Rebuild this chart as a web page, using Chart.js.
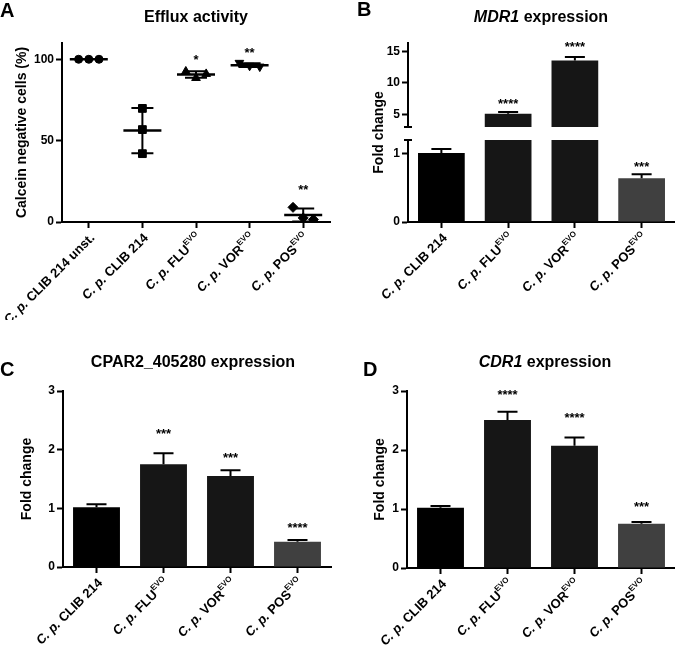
<!DOCTYPE html>
<html><head><meta charset="utf-8">
<script src="https://cdn.jsdelivr.net/npm/chart.js@4"></script>
<style>
html,body{margin:0;padding:0;background:#fff;width:675px;height:646px;overflow:hidden}
canvas{position:absolute}
</style></head><body>
<canvas id="cA" width="337" height="320" style="left:0;top:0"></canvas>
<canvas id="cB" width="338" height="320" style="left:337px;top:0"></canvas>
<canvas id="cC" width="337" height="326" style="left:0;top:320px"></canvas>
<canvas id="cD" width="338" height="326" style="left:337px;top:320px"></canvas>
<script>
// ---------------- DATA ----------------
const prefix = 'C. p. ';
const strainsA = ['CLIB 214 unst.', 'CLIB 214', 'FLU', 'VOR', 'POS'];
const supA = ['', '', 'EVO', 'EVO', 'EVO'];
const replicatesA = [[100, 100, 100], [69.8, 56.8, 42.0], [92.5, 88.5, 91.0], [97.8, 96.0, 95.5], [9.0, 2.5, 1.5]];
const meanA = [100, 56.2, 90.7, 96.4, 4.3];
const sdA = [0, 13.9, 2.0, 1.2, 4.0];
const sigA = ['', '', '*', '**', '**'];
const sigYA = [null, null, 102, 105.7, 22];
const ticksA = [0, 50, 100];

const strainsBCD = ['CLIB 214', 'FLU', 'VOR', 'POS'];
const supBCD = ['', 'EVO', 'EVO', 'EVO'];

const mdr1 = [1.01, 5.1, 13.52, 0.64];
const mdr1Sd = [0.06, 0.27, 0.58, 0.06];
const sigB = ['', '****', '****', '***'];
const sigYB = [null, 7.2, 16.2, 0.85];
const ticksBLow = [0, 1];
const ticksBHigh = [5, 10, 15];

const cpar2 = [1.02, 1.75, 1.55, 0.43];
const cpar2Sd = [0.05, 0.19, 0.10, 0.03];
const sigC = ['', '***', '***', '****'];
const sigYC = [null, 2.33, 1.91, 0.72];

const cdr1 = [1.02, 2.51, 2.07, 0.75];
const cdr1Sd = [0.03, 0.14, 0.14, 0.03];
const sigD = ['', '****', '****', '***'];
const sigYD = [null, 2.99, 2.6, 1.1];
const ticksCD = [0, 1, 2, 3];

const barColors = ['#000000', '#161616', '#161616', '#404040'];

// ---------------- STYLE ----------------
const FONT = '"Liberation Sans", Arial, Helvetica, sans-serif';
Chart.defaults.font.family = FONT;
Chart.defaults.color = '#000';
Chart.defaults.animation = false;

function tickSetter(vals) { return s => { s.ticks = vals.map(v => ({ value: v })); }; }
const axisGrid = { drawOnChartArea: false, drawTicks: true, tickLength: 6, tickWidth: 2, tickColor: '#000' };
const axisBorder = { display: true, width: 2, color: '#000' };
function yAxis(min, max, ticks, width, extra) {
  return Object.assign({
    type: 'linear', position: 'left', min, max,
    afterBuildTicks: tickSetter(ticks),
    afterFit: s => { s.width = width; },
    grid: axisGrid, border: axisBorder,
    ticks: { font: { size: 12, weight: 'bold' }, padding: 2, color: '#000' }
  }, extra || {});
}

function drawXLabels(chart, names, sups, lx, ly) {
  const ctx = chart.ctx, xs = chart.scales.x, base = chart.chartArea.bottom;
  names.forEach((name, i) => {
    const px = xs.getPixelForValue(i);
    ctx.save();
    ctx.translate(px + lx, base + ly);
    ctx.rotate(-Math.PI / 4);
    ctx.textBaseline = 'middle'; ctx.textAlign = 'left'; ctx.fillStyle = '#000';
    const fPre = `italic bold 13px ${FONT}`, fMain = `bold 13px ${FONT}`, fSup = `bold 8px ${FONT}`;
    ctx.font = fPre; const w1 = ctx.measureText(prefix).width;
    ctx.font = fMain; const w2 = ctx.measureText(name).width;
    ctx.font = fSup; const w3 = sups[i] ? ctx.measureText(sups[i]).width : 0;
    let x = -(w1 + w2 + w3);
    ctx.font = fPre; ctx.fillText(prefix, x, 0); x += w1;
    ctx.font = fMain; ctx.fillText(name, x, 0); x += w2;
    if (sups[i]) { ctx.font = fSup; ctx.fillText(sups[i], x, -5); }
    ctx.restore();
  });
}

function drawTitle(ctx, segs, cx, cy) {
  ctx.save();
  ctx.textBaseline = 'middle'; ctx.textAlign = 'left'; ctx.fillStyle = '#000';
  const fonts = segs.map(s => `${s.italic ? 'italic ' : ''}bold 16px ${FONT}`);
  let total = 0;
  const ws = segs.map((s, i) => { ctx.font = fonts[i]; const w = ctx.measureText(s.text).width; total += w; return w; });
  let x = cx - total / 2;
  segs.forEach((s, i) => { ctx.font = fonts[i]; ctx.fillText(s.text, x, cy); x += ws[i]; });
  ctx.restore();
}

function drawLetter(ctx, letter, x, y) {
  ctx.save(); ctx.font = `bold 20px ${FONT}`; ctx.textAlign = 'left'; ctx.textBaseline = 'middle';
  ctx.fillStyle = '#000'; ctx.fillText(letter, x, y); ctx.restore();
}

function drawYTitle(ctx, text, x, y) {
  ctx.save(); ctx.translate(x, y); ctx.rotate(-Math.PI / 2);
  ctx.font = `bold 14px ${FONT}`; ctx.textAlign = 'center'; ctx.textBaseline = 'middle';
  ctx.fillStyle = '#000'; ctx.fillText(text, 0, 0); ctx.restore();
}

function drawSig(ctx, text, x, y) {
  ctx.save(); ctx.font = `bold 13px ${FONT}`; ctx.textAlign = 'center'; ctx.textBaseline = 'alphabetic';
  ctx.fillStyle = '#000'; ctx.fillText(text, x, y + 7.5); ctx.restore();
}

function drawErr(ctx, x, yFrom, yTo, cap) {
  ctx.beginPath();
  ctx.moveTo(x, yFrom); ctx.lineTo(x, yTo);
  ctx.moveTo(x - cap, yTo); ctx.lineTo(x + cap, yTo);
  ctx.stroke();
}

const catX = {
  type: 'category', position: 'bottom',
  afterFit: s => { s.height = 10; },
  grid: Object.assign({ offset: false }, axisGrid), border: axisBorder,
  ticks: { display: false }
};

// ---------------- PANEL A ----------------
const markerStyles = ['circle', 'rect', 'triangle', 'triangle', 'rectRot'];
const markerRotation = [0, 0, 0, 180, 0];
const markerRadius = [4, 5.5, 5, 5, 5];
const spreadStep = 0.19;
const dsA = replicatesA.map((vals, g) => {
  const spread = Math.max(...vals) - Math.min(...vals) < 10;
  return {
    data: vals.map((v, k) => ({ x: g + (spread ? (k - 1) * spreadStep : 0), y: v })),
    pointStyle: markerStyles[g], rotation: markerRotation[g], pointRadius: markerRadius[g],
    backgroundColor: '#000', borderColor: '#000', borderWidth: 1, showLine: false
  };
});

new Chart(document.getElementById('cA'), {
  type: 'scatter',
  data: { datasets: dsA },
  options: {
    responsive: false, events: [],
    layout: { padding: { left: 14, top: 43, right: 7, bottom: 88 } },
    plugins: { legend: { display: false }, tooltip: { enabled: false } },
    scales: {
      x: {
        type: 'linear', min: -0.5, max: 4.5,
        afterBuildTicks: tickSetter(strainsA.map((_, i) => i)),
        afterFit: s => { s.height = 10; },
        grid: axisGrid, border: axisBorder, ticks: { display: false }
      },
      y: yAxis(0, 110, ticksA, 48)
    }
  },
  plugins: [{
    id: 'decorA',
    afterDatasetsDraw(chart) {
      const ctx = chart.ctx, xs = chart.scales.x, ys = chart.scales.y;
      ctx.save(); ctx.strokeStyle = '#000'; ctx.lineWidth = 2.5;
      meanA.forEach((m, i) => {
        const x = xs.getPixelForValue(i), y = ys.getPixelForValue(m);
        ctx.beginPath(); ctx.moveTo(x - 19, y); ctx.lineTo(x + 19, y); ctx.stroke();
        if (sdA[i] > 0) {
          const yt = ys.getPixelForValue(m + sdA[i]), yb = ys.getPixelForValue(Math.max(m - sdA[i], 0));
          ctx.lineWidth = 2;
          ctx.beginPath(); ctx.moveTo(x, yt); ctx.lineTo(x, yb);
          ctx.moveTo(x - 11, yt); ctx.lineTo(x + 11, yt);
          ctx.moveTo(x - 11, yb); ctx.lineTo(x + 11, yb); ctx.stroke();
          ctx.lineWidth = 2.5;
        }
      });
      ctx.restore();
    },
    afterDraw(chart) {
      const ctx = chart.ctx, ca = chart.chartArea, xs = chart.scales.x, ys = chart.scales.y;
      drawLetter(ctx, 'A', 0, 11);
      drawTitle(ctx, [{ text: 'Efflux activity' }], 196, 18);
      drawYTitle(ctx, 'Calcein negative cells (%)', 22, (ca.top + ca.bottom) / 2);
      sigA.forEach((s, i) => { if (s) drawSig(ctx, s, xs.getPixelForValue(i), ys.getPixelForValue(sigYA[i])); });
      drawXLabels(chart, strainsA, supA, 4, 14);
    }
  }]
});

// ---------------- BAR PANELS ----------------
const clipPlugin = {
  id: 'clipToScale',
  beforeDatasetDraw(chart, args) {
    const ys = chart.scales[args.meta.yAxisID], ca = chart.chartArea, ctx = chart.ctx;
    ctx.save(); ctx.beginPath();
    ctx.rect(ca.left - 2, ys.top, ca.right - ca.left + 4, ys.bottom - ys.top); ctx.clip();
  },
  afterDatasetDraw(chart) { chart.ctx.restore(); }
};

function barDataset(values, yAxisID) {
  return {
    data: values, yAxisID, backgroundColor: barColors, borderWidth: 0,
    barPercentage: 0.7, categoryPercentage: 1.0, grouped: false
  };
}

function pickScale(chart, v) {
  const lo = chart.scales.yLow;
  if (lo && v > lo.max) return chart.scales.yHigh;
  return lo || chart.scales.y;
}

function barDecor(id, letter, lpos, titleSegs, tpos, yTitleX, values, sds, sig, sigY, isBroken) {
  return {
    id,
    afterDatasetsDraw(chart) {
      const ctx = chart.ctx, xs = chart.scales.x;
      ctx.save(); ctx.strokeStyle = '#000'; ctx.lineWidth = 2;
      values.forEach((v, i) => {
        const ys = pickScale(chart, v);
        const x = xs.getPixelForValue(i);
        drawErr(ctx, x, ys.getPixelForValue(v), ys.getPixelForValue(v + sds[i]), 10);
      });
      ctx.restore();
    },
    afterDraw(chart) {
      const ctx = chart.ctx, ca = chart.chartArea, xs = chart.scales.x;
      drawLetter(ctx, letter, lpos[0], lpos[1]);
      drawTitle(ctx, titleSegs, tpos[0], tpos[1]);
      drawYTitle(ctx, 'Fold change', yTitleX, (ca.top + ca.bottom) / 2);
      sig.forEach((s, i) => { if (s) { const ys = pickScale(chart, sigY[i]); drawSig(ctx, s, xs.getPixelForValue(i), ys.getPixelForValue(sigY[i])); } });
      if (isBroken) {
        ctx.save(); ctx.strokeStyle = '#000'; ctx.lineWidth = 2;
        [chart.scales.yHigh.bottom, chart.scales.yLow.top].forEach(y => {
          ctx.beginPath(); ctx.moveTo(ca.left - 4, y); ctx.lineTo(ca.left + 4, y); ctx.stroke();
        });
        ctx.restore();
      }
      drawXLabels(chart, strainsBCD, supBCD, 4, 14);
    }
  };
}

// Panel B (broken axis)
new Chart(document.getElementById('cB'), {
  type: 'bar',
  data: {
    labels: strainsBCD.map((s, i) => prefix + s + supBCD[i]),
    datasets: [barDataset(mdr1, 'yLow'), barDataset(mdr1, 'yHigh')]
  },
  options: {
    responsive: false, events: [],
    layout: { padding: { left: 26, top: 43, right: 0, bottom: 88 } },
    plugins: { legend: { display: false }, tooltip: { enabled: false } },
    scales: {
      x: catX,
      yLow: yAxis(0, 1.2, ticksBLow, 45, { stack: 'b', stackWeight: 82, weight: 1 }),
      yGap: { type: 'linear', position: 'left', display: false, stack: 'b', stackWeight: 13, weight: 2, min: 0, max: 1, afterFit: s => { s.width = 45; } },
      yHigh: yAxis(3, 16.3, ticksBHigh, 45, { stack: 'b', stackWeight: 84, weight: 3 })
    }
  },
  plugins: [clipPlugin, barDecor('decorB', 'B', [20, 10], [{ text: 'MDR1', italic: true }, { text: ' expression' }], [204, 18], 42, mdr1, mdr1Sd, sigB, sigYB, true)]
});

// Panel C
new Chart(document.getElementById('cC'), {
  type: 'bar',
  data: {
    labels: strainsBCD.map((s, i) => prefix + s + supBCD[i]),
    datasets: [barDataset(cpar2, 'y')]
  },
  options: {
    responsive: false, events: [],
    layout: { padding: { left: 15, top: 71, right: 6, bottom: 69 } },
    plugins: { legend: { display: false }, tooltip: { enabled: false } },
    scales: { x: catX, y: yAxis(0, 3, ticksCD, 48) }
  },
  plugins: [barDecor('decorC', 'C', [0, 50], [{ text: 'CPAR2_405280 expression' }], [193, 43], 27, cpar2, cpar2Sd, sigC, sigYC, false)]
});

// Panel D
new Chart(document.getElementById('cD'), {
  type: 'bar',
  data: {
    labels: strainsBCD.map((s, i) => prefix + s + supBCD[i]),
    datasets: [barDataset(cdr1, 'y')]
  },
  options: {
    responsive: false, events: [],
    layout: { padding: { left: 22, top: 71, right: 0, bottom: 68 } },
    plugins: { legend: { display: false }, tooltip: { enabled: false } },
    scales: { x: catX, y: yAxis(0, 3, ticksCD, 48) }
  },
  plugins: [barDecor('decorD', 'D', [26, 50], [{ text: 'CDR1', italic: true }, { text: ' expression' }], [208, 43], 43, cdr1, cdr1Sd, sigD, sigYD, false)]
});
</script>
</body></html>
